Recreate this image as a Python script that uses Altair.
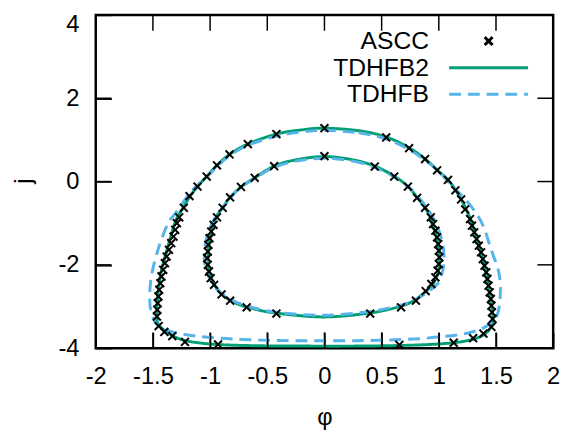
import altair as alt
import pandas as pd

# ---------------- data ----------------
series_names = ["ASCC", "TDHFB2", "TDHFB"]
series_colors = ["#000000", "#009E73", "#56B4E9"]

x_ticks = [-2, -1.5, -1, -0.5, 0, 0.5, 1, 1.5, 2]
y_ticks = [-4, -2, 0, 2, 4]
x_domain = [-2, 2]
y_domain = [-4, 4]

# TDHFB2 (green solid) outer orbit
tdhfb2_outer_phi = [0.00, 0.30, 0.54, 0.74, 0.88, 0.99, 1.08, 1.145, 1.20, 1.245, 1.28, 1.345, 1.40, 1.44,
                    1.465, 1.474, 1.45, 1.38, 1.25, 1.05, 0.75, 0.30, -0.20, -0.64, -0.95, -1.18, -1.30,
                    -1.39, -1.455, -1.466, -1.457, -1.43, -1.37, -1.30, -1.24, -1.18, -1.11, -1.03, -0.94,
                    -0.83, -0.67, -0.42, -0.20]
tdhfb2_outer_j = [1.28, 1.22, 1.07, 0.81, 0.54, 0.27, 0.04, -0.20, -0.45, -0.70, -0.94, -1.50, -2.04, -2.59,
                  -3.06, -3.32, -3.52, -3.70, -3.82, -3.89, -3.93, -3.95, -3.95, -3.94, -3.91, -3.84, -3.74,
                  -3.59, -3.42, -3.22, -2.75, -2.20, -1.57, -0.94, -0.65, -0.37, -0.12, 0.12, 0.39,
                  0.65, 0.90, 1.14, 1.24]

# TDHFB2 (green solid) inner orbit
tdhfb2_inner_phi = [0.00, 0.25, 0.44, 0.61, 0.73, 0.81, 0.88, 0.93, 0.985, 1.005, 0.995, 0.95, 0.86, 0.78,
                    0.67, 0.41, 0.00, -0.42, -0.64, -0.79, -0.92, -0.997, -1.018, -1.001, -0.955, -0.89,
                    -0.825, -0.73, -0.61, -0.44, -0.25]
tdhfb2_inner_j = [0.60, 0.52, 0.37, 0.13, -0.12, -0.38, -0.63, -0.90, -1.41, -1.80, -2.15, -2.45, -2.70, -2.86,
                  -2.99, -3.15, -3.25, -3.16, -3.04, -2.90, -2.65, -2.25, -1.84, -1.37, -0.90, -0.63,
                  -0.38, -0.13, 0.09, 0.37, 0.52]

# TDHFB (blue dashed) outer orbit
tdhfb_outer_phi = [0.00, 0.30, 0.54, 0.74, 0.88, 1.00, 1.12, 1.24, 1.345, 1.40, 1.46, 1.526, 1.537, 1.505,
                   1.40, 1.216, 0.96, 0.78, 0.30, -0.30, -0.64, -0.93, -1.18, -1.33, -1.46, -1.514, -1.528,
                   -1.514, -1.457, -1.371, -1.30, -1.16, -1.04, -0.95, -0.84, -0.68, -0.42, -0.20]
tdhfb_outer_j = [1.23, 1.17, 1.02, 0.77, 0.51, 0.24, -0.12, -0.45, -0.84, -1.15, -1.65, -2.20, -2.75, -3.24,
                 -3.50, -3.66, -3.74, -3.78, -3.82, -3.82, -3.80, -3.76, -3.69, -3.61, -3.45, -3.14, -2.82,
                 -2.28, -1.65, -1.02, -0.75, -0.22, 0.08, 0.33, 0.60, 0.86, 1.09, 1.19]

# TDHFB (blue dashed) inner orbit
tdhfb_inner_phi = [0.00, 0.25, 0.44, 0.61, 0.74, 0.83, 0.90, 0.96, 1.01, 1.04, 1.045, 1.03, 0.99, 0.90, 0.79,
                   0.65, 0.40, 0.00, -0.42, -0.66, -0.80, -0.91, -0.99, -1.04, -1.05, -1.03, -0.98, -0.90,
                   -0.83, -0.74, -0.62, -0.45, -0.25]
tdhfb_inner_j = [0.56, 0.49, 0.34, 0.11, -0.14, -0.40, -0.65, -0.92, -1.25, -1.60, -1.90, -2.20, -2.45, -2.66,
                 -2.84, -2.98, -3.12, -3.21, -3.14, -3.00, -2.86, -2.66, -2.40, -2.05, -1.70, -1.35, -0.98,
                 -0.66, -0.41, -0.16, 0.06, 0.33, 0.49]

# ASCC (crosses) outer orbit
ascc_outer_phi = [0.00, 0.54, 0.74, 0.88, 0.985, 1.08, 1.145, 1.195, 1.23, 1.273, 1.29, 1.31, 1.33, 1.35,
                  1.37, 1.385, 1.40, 1.415, 1.425, 1.435, 1.445, 1.455, 1.46, 1.465, 1.47, 1.46, 1.39,
                  1.30, 1.13, 0.655, -0.93, -1.22, -1.33, -1.40, -1.45, -1.465, -1.462, -1.458, -1.452,
                  -1.445, -1.435, -1.425, -1.41, -1.395, -1.38, -1.36, -1.34, -1.32, -1.305, -1.29,
                  -1.27, -1.23, -1.18, -1.11, -1.03, -0.94, -0.83, -0.67, -0.42]
ascc_outer_j = [1.28, 1.06, 0.80, 0.54, 0.27, 0.04, -0.21, -0.43, -0.67, -0.90, -1.06, -1.22, -1.38, -1.54,
                -1.70, -1.86, -2.02, -2.18, -2.34, -2.50, -2.66, -2.82, -2.98, -3.14, -3.30, -3.49, -3.65,
                -3.76, -3.87, -3.92, -3.91, -3.85, -3.71, -3.61, -3.47, -3.24, -3.08, -2.92, -2.76,
                -2.60, -2.44, -2.28, -2.12, -1.96, -1.80, -1.64, -1.48, -1.32, -1.16, -1.00,
                -0.86, -0.63, -0.35, -0.12, 0.12, 0.39, 0.65, 0.90, 1.14]

# ASCC (crosses) inner orbit
ascc_inner_phi = [0.00, 0.44, 0.61, 0.73, 0.81, 0.88, 0.93, 0.95, 0.97, 0.985, 0.995, 1.00, 1.005, 1.00,
                  0.99, 0.97, 0.935, 0.885, 0.80, 0.67, 0.40, -0.42, -0.68, -0.825, -0.90, -0.965, -0.995,
                  -1.01, -1.02, -1.025, -1.02, -1.015, -1.005, -0.99, -0.97, -0.94, -0.89, -0.825, -0.73,
                  -0.61, -0.44]
ascc_inner_j = [0.61, 0.36, 0.12, -0.12, -0.39, -0.63, -0.86, -1.02, -1.18, -1.34, -1.50, -1.66, -1.82, -1.98,
                -2.14, -2.30, -2.46, -2.63, -2.86, -3.02, -3.17, -3.17, -3.02, -2.86, -2.71, -2.48, -2.32,
                -2.16, -2.00, -1.84, -1.68, -1.52, -1.36, -1.20, -1.04, -0.86, -0.63, -0.38, -0.13,
                0.09, 0.37]


def frame(phi, j, series, loop):
    return pd.DataFrame({"phi": phi, "j": j, "series": series, "loop": loop,
                         "idx": list(range(len(phi)))})


green_df = pd.concat([frame(tdhfb2_outer_phi, tdhfb2_outer_j, "TDHFB2", "outer"),
                      frame(tdhfb2_inner_phi, tdhfb2_inner_j, "TDHFB2", "inner")])
blue_df = pd.concat([frame(tdhfb_outer_phi, tdhfb_outer_j, "TDHFB", "outer"),
                     frame(tdhfb_inner_phi, tdhfb_inner_j, "TDHFB", "inner")])
ascc_df = pd.concat([frame(ascc_outer_phi, ascc_outer_j, "ASCC", "outer"),
                     frame(ascc_inner_phi, ascc_inner_j, "ASCC", "inner")])

# ---------------- styling ----------------
FONT = "Liberation Sans"
FS = 24
LFS = 25
TICK = 16          # inward tick length in pixels
W, H = 464, 338

# inward (gnuplot style) ticks on the frame at the tick values, length TICK px in data units
tick_dx = TICK * (x_domain[1] - x_domain[0]) / W
tick_dy = TICK * (y_domain[1] - y_domain[0]) / H
xtick_df = pd.DataFrame({
    "phi": x_ticks * 2,
    "j": [y_domain[0]] * len(x_ticks) + [y_domain[1]] * len(x_ticks),
    "j2": [y_domain[0] + tick_dy] * len(x_ticks) + [y_domain[1] - tick_dy] * len(x_ticks),
})
ytick_df = pd.DataFrame({
    "phi": [x_domain[0]] * len(y_ticks) + [x_domain[1]] * len(y_ticks),
    "phi2": [x_domain[0] + tick_dx] * len(y_ticks) + [x_domain[1] - tick_dx] * len(y_ticks),
    "j": y_ticks * 2,
})

x_scale = alt.Scale(domain=x_domain, nice=False, zero=False)
y_scale = alt.Scale(domain=y_domain, nice=False, zero=False)

color_scale = alt.Scale(domain=series_names, range=series_colors)
dash_scale = alt.Scale(domain=series_names, range=[[1, 0], [1, 0], [12, 7]])
cross_path = "M-0.5,-0.5L0.5,0.5M-0.5,0.5L0.5,-0.5"
stroke_path = "M-5,0L5,0"
shape_scale = alt.Scale(domain=series_names, range=[cross_path, stroke_path, stroke_path])

legend = alt.Legend(title=None, orient="none", legendX=311, legendY=14,
                    labelAlign="right", labelOffset={"expr": "-73"}, symbolOffset=75,
                    rowPadding=1,
                    symbolSize=256, symbolStrokeWidth=3, labelFontSize=LFS, labelFont=FONT,
                    labelColor="black", padding=0, labelLimit=0)

x_axis_main = alt.Axis(orient="bottom", values=x_ticks, offset=-TICK, ticks=True, tickSize=TICK,
                       tickColor="black", tickWidth=1.5, tickOpacity=1, domain=False, grid=False,
                       labelPadding=17, zindex=1,
                       labelFontSize=FS, labelFont=FONT, labelColor="black", labelFlush=False,
                       labelOverlap=False, labelExpr="toString(datum.value)",
                       title="φ", titleFont=FONT, titleFontSize=FS, titleFontWeight="normal",
                       titleColor="black", titleY=86, titleBaseline="middle")
y_axis_main = alt.Axis(orient="left", values=y_ticks, offset=-TICK, ticks=True, tickSize=TICK,
                       tickColor="black", tickWidth=1.5, tickOpacity=1, domain=False, grid=False,
                       labelPadding=17, zindex=1,
                       labelFontSize=FS, labelFont=FONT, labelColor="black", labelFlush=False,
                       labelOverlap=False, labelExpr="toString(datum.value)",
                       labelOffset={"condition": {"test": "datum.value == 4", "value": 10}, "value": 0},
                       title="j", titleFont=FONT, titleFontSize=FS, titleFontWeight="normal",
                       titleColor="black", titleAngle=270, titleX=-89, titleY=168,
                       titleBaseline="middle")

xticks_layer = alt.Chart(xtick_df).mark_rule(strokeWidth=1.5, color="black").encode(
    x=alt.X("phi:Q", scale=x_scale, axis=None),
    y=alt.Y("j:Q", scale=y_scale, axis=None),
    y2="j2:Q",
)
yticks_layer = alt.Chart(ytick_df).mark_rule(strokeWidth=1.5, color="black").encode(
    x=alt.X("phi:Q", scale=x_scale, axis=None),
    x2="phi2:Q",
    y=alt.Y("j:Q", scale=y_scale, axis=None),
)

green = alt.Chart(green_df).mark_line(interpolate="cardinal-closed", strokeWidth=3).encode(
    x=alt.X("phi:Q", scale=x_scale, axis=x_axis_main),
    y=alt.Y("j:Q", scale=y_scale, axis=y_axis_main),
    color=alt.Color("series:N", scale=color_scale, legend=legend),
    strokeDash=alt.StrokeDash("series:N", scale=dash_scale, legend=legend),
    detail="loop:N",
    order="idx:Q",
)

blue = alt.Chart(blue_df).mark_line(interpolate="cardinal-closed", strokeWidth=3).encode(
    x=alt.X("phi:Q", scale=x_scale, axis=None),
    y=alt.Y("j:Q", scale=y_scale, axis=None),
    color=alt.Color("series:N", scale=color_scale, legend=legend),
    strokeDash=alt.StrokeDash("series:N", scale=dash_scale, legend=legend),
    detail="loop:N",
    order="idx:Q",
)

crosses = alt.Chart(ascc_df).mark_point(filled=False, size=256, strokeWidth=2, opacity=1).encode(
    x=alt.X("phi:Q", scale=x_scale, axis=None),
    y=alt.Y("j:Q", scale=y_scale, axis=None),
    color=alt.Color("series:N", scale=color_scale, legend=legend),
    shape=alt.Shape("series:N", scale=shape_scale, legend=legend),
)

chart = alt.layer(xticks_layer, yticks_layer, green, blue, crosses).resolve_axis(
    x="independent", y="independent"
).properties(
    width=W, height=H,
    autosize=alt.AutoSizeParams(type="none"),
    padding={"left": 89, "top": 4, "right": 12, "bottom": 81},
    background="white",
).configure(font=FONT).configure_view(stroke="black", strokeWidth=2.5)

chart.save("out.html", embed_options={"renderer": "svg", "actions": False})
